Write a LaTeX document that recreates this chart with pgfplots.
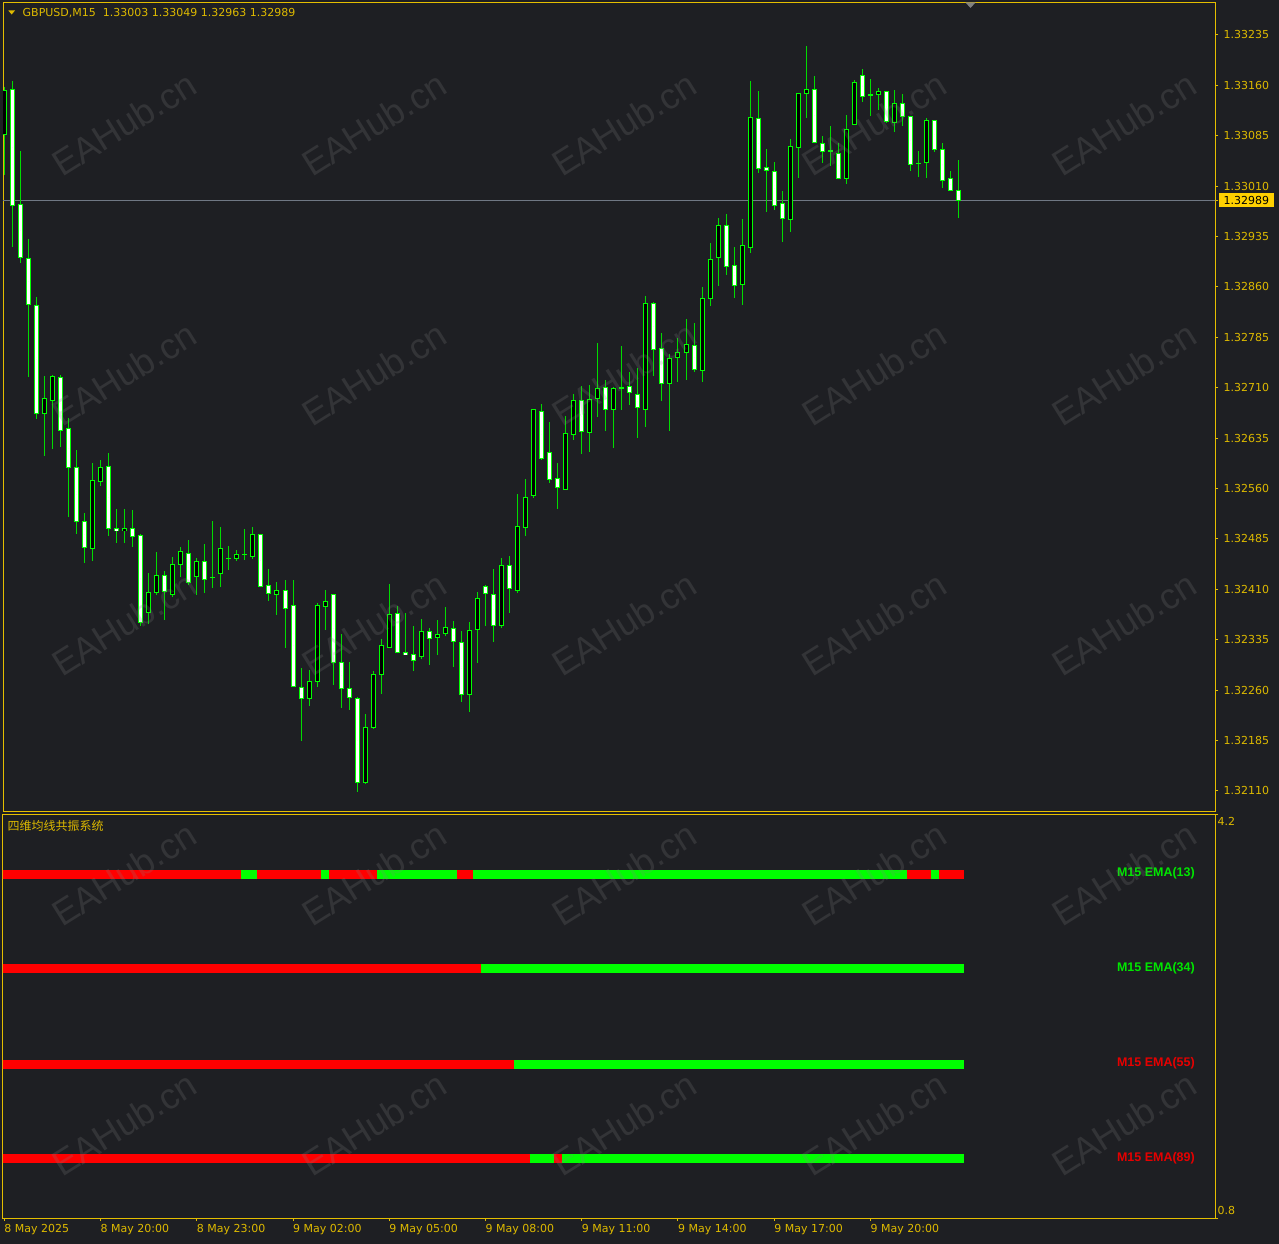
\documentclass[border=0pt]{standalone}
\usepackage{pgfplots}
\pgfplotsset{compat=1.18}
\usepackage{pgfplotstable}
\usepackage{fontspec}
\setmainfont{DejaVu Sans}
\newfontfamily\arialfont{Liberation Sans}
\newfontfamily\cjk{Noto Sans CJK SC}

\definecolor{bg}{RGB}{30,31,35}
\definecolor{frame}{RGB}{228,190,0}
\definecolor{goldtext}{RGB}{222,186,0}
\definecolor{pricetag}{RGB}{255,208,0}
\definecolor{candlegreen}{RGB}{0,255,0}
\definecolor{wickgreen}{RGB}{0,220,0}
\definecolor{pricegray}{RGB}{112,120,132}
\definecolor{sigred}{RGB}{255,0,0}
\definecolor{siggreen}{RGB}{0,255,0}
\definecolor{labred}{RGB}{230,0,0}
\definecolor{labgreen}{RGB}{0,230,0}

% GBPUSD M15 bars; prices in points above 1.32000 (1 point = 0.00001)
\pgfplotstableread{
i o h l c
0 1087 1158 1027 1153
1 1154 1166 920 982
2 983 1062 895 904
3 902 931 726 834
4 833 845 664 671
5 671 727 609 694
6 691 729 619 727
7 726 729 622 646
8 649 665 517 591
9 591 617 493 511
10 511 524 450 473
11 471 598 452 572
12 571 603 564 592
13 593 613 489 500
14 501 530 479 497
15 497 529 479 501
16 501 528 473 489
17 490 492 356 361
18 375 435 358 405
19 405 466 402 431
20 431 438 364 407
21 402 458 399 447
22 447 473 429 467
23 464 483 417 420
24 429 457 401 452
25 452 478 405 425
26 428 512 412 428
27 433 503 413 471
28 456 474 439 456
29 456 469 452 462
30 462 500 453 462
31 459 503 455 492
32 491 493 413 414
33 416 441 392 404
34 403 421 372 409
35 409 424 323 382
36 386 424 265 266
37 264 293 184 247
38 247 290 236 273
39 273 389 265 386
40 384 409 350 392
41 403 403 267 301
42 301 343 233 262
43 263 302 231 249
44 248 250 109 122
45 123 224 120 205
46 204 289 202 284
47 283 336 255 327
48 323 418 323 373
49 374 385 315 316
50 316 375 313 313
51 313 356 289 304
52 310 366 306 348
53 348 353 298 337
54 339 365 312 343
55 344 384 341 354
56 352 363 295 332
57 331 348 242 254
58 254 362 227 349
59 351 406 301 396
60 415 417 356 404
61 403 440 331 356
62 356 457 353 445
63 445 459 375 412
64 409 552 405 504
65 502 574 490 547
66 550 678 546 677
67 675 686 603 605
68 613 659 569 573
69 575 598 529 561
70 559 668 558 642
71 641 701 632 691
72 691 713 612 645
73 643 714 614 693
74 694 776 666 709
75 711 722 645 677
76 677 711 620 709
77 710 772 677 710
78 712 734 685 703
79 700 739 635 680
80 677 847 651 836
81 836 838 728 767
82 769 791 690 716
83 716 761 646 754
84 755 784 718 763
85 763 813 722 775
86 773 806 733 737
87 736 860 719 843
88 843 926 832 901
89 904 963 862 952
90 952 969 878 891
91 892 920 843 862
92 863 961 833 921
93 919 1167 910 1112
94 1111 1152 1030 1036
95 1038 1066 971 1034
96 1032 1046 975 981
97 984 1003 927 962
98 961 1080 942 1069
99 1068 1149 1022 1148
100 1148 1219 1112 1154
101 1154 1174 1074 1075
102 1074 1084 1044 1062
103 1063 1099 1040 1063
104 1059 1075 1021 1022
105 1022 1116 1013 1095
106 1102 1168 1101 1165
107 1174 1184 1135 1143
108 1146 1169 1114 1146
109 1146 1156 1123 1151
110 1151 1151 1104 1106
111 1105 1153 1091 1133
112 1133 1147 1099 1113
113 1113 1113 1033 1042
114 1044 1063 1023 1044
115 1045 1111 1022 1108
116 1108 1108 1061 1065
117 1065 1075 1007 1019
118 1021 1033 1004 1004
119 1003 1049 963 989
}\candles

\pgfplotsset{
  mtframe/.style={
    scale only axis, width=1212.3pt,
    xmin=-0.162, xmax=150.998,
    axis line style={frame, line width=1pt},
    tick style={frame, line width=1pt},
    tick align=outside, major tick length=3pt,
    ticklabel style={font=\fontsize{11}{13}\selectfont, text=goldtext},
  },
  % error bars only: the point markers themselves are suppressed
  candlebars/.style={forget plot, only marks, mark=*, mark size=0pt,
    mark options={draw=none, fill=none}},
}

\begin{document}
\begin{tikzpicture}
\useasboundingbox (0pt,0pt) rectangle (1279pt,-1244pt);
\fill[bg] (0pt,0pt) rectangle (1279pt,-1244pt);

% ---------------- price window ----------------
\begin{axis}[mtframe,
  at={(3pt,-811pt)}, anchor=south west, height=808pt,
  ymin=80.2, ymax=1282.6,
  xtick=\empty,
  ytick={110,185,...,1235},
  yticklabels={1.32110,1.32185,1.32260,1.32335,1.32410,1.32485,1.32560,1.32635,
               1.32710,1.32785,1.32860,1.32935,1.33010,1.33085,1.33160,1.33235},
  ytick pos=right,
  yticklabel style={anchor=west, inner xsep=5pt, inner ysep=3pt},
  extra y ticks={989}, extra y tick labels={1.32989},
  extra y tick style={yticklabel style={fill=pricetag, text=black}},
]
% last bid line
\addplot[pricegray, line width=1pt, forget plot] coordinates {(-1,989) (152,989)};
% wicks
\addplot[candlebars, error bars/.cd, y dir=both, y explicit, error mark=none,
  error bar style={draw=wickgreen, line width=1pt}]
  table[x=i, y expr={(\thisrow{h}+\thisrow{l})/2}, y error expr={(\thisrow{h}-\thisrow{l})/2}] {\candles};
% body outlines
\addplot[candlebars, error bars/.cd, y dir=both, y explicit, error mark=none,
  error bar style={draw=candlegreen, line width=5pt}]
  table[x=i, y expr={(\thisrow{o}+\thisrow{c})/2}, y error expr={abs(\thisrow{o}-\thisrow{c})/2+0.744}] {\candles};
% bearish bodies (white); bars of other kinds are moved off the chart
\addplot[candlebars, error bars/.cd, y dir=both, y explicit, error mark=none,
  error bar style={draw=white, line width=3pt}]
  table[x expr={(\thisrow{o}-\thisrow{c}>1.6) ? \thisrow{i} : -20},
        y expr={(\thisrow{o}+\thisrow{c})/2},
        y error expr={max(abs(\thisrow{o}-\thisrow{c})/2-0.744,0.05)}] {\candles};
% bullish bodies (black)
\addplot[candlebars, error bars/.cd, y dir=both, y explicit, error mark=none,
  error bar style={draw=black, line width=3pt}]
  table[x expr={(\thisrow{c}-\thisrow{o}>1.6) ? \thisrow{i} : -20},
        y expr={(\thisrow{o}+\thisrow{c})/2},
        y error expr={max(abs(\thisrow{c}-\thisrow{o})/2-0.744,0.05)}] {\candles};
\end{axis}

% ---------------- indicator window ----------------
\begin{axis}[mtframe,
  at={(3pt,-1218pt)}, anchor=south west, height=404pt,
  ymin=0.8, ymax=4.2,
  xtick={0,12,...,108},
  xticklabels={8 May 2025,8 May 20:00,8 May 23:00,9 May 02:00,9 May 05:00,
               9 May 08:00,9 May 11:00,9 May 14:00,9 May 17:00,9 May 20:00},
  xtick pos=bottom,
  xticklabel style={anchor=north west, inner xsep=0pt, inner ysep=3pt},
  ytick={4.2}, yticklabels={4.2}, ytick pos=right,
  yticklabel style={anchor=north west, inner xsep=1pt, inner ysep=3pt, xshift=-2pt},
  extra y ticks={0.8}, extra y tick labels={0.8},
  extra y tick style={yticklabel style={anchor=south west}},
]
% EMA(13)
\addplot[sigred,   line width=9pt] coordinates {(-0.5,3.691) (29.5,3.691)};
\addplot[siggreen, line width=9pt] coordinates {(29.5,3.691) (31.5,3.691)};
\addplot[sigred,   line width=9pt] coordinates {(31.5,3.691) (39.5,3.691)};
\addplot[siggreen, line width=9pt] coordinates {(39.5,3.691) (40.5,3.691)};
\addplot[sigred,   line width=9pt] coordinates {(40.5,3.691) (46.5,3.691)};
\addplot[siggreen, line width=9pt] coordinates {(46.5,3.691) (56.5,3.691)};
\addplot[sigred,   line width=9pt] coordinates {(56.5,3.691) (58.5,3.691)};
\addplot[siggreen, line width=9pt] coordinates {(58.5,3.691) (112.5,3.691)};
\addplot[sigred,   line width=9pt] coordinates {(112.5,3.691) (115.5,3.691)};
\addplot[siggreen, line width=9pt] coordinates {(115.5,3.691) (116.5,3.691)};
\addplot[sigred,   line width=9pt] coordinates {(116.5,3.691) (119.7,3.691)};
% EMA(34)
\addplot[sigred,   line width=9pt] coordinates {(-0.5,2.896) (59.5,2.896)};
\addplot[siggreen, line width=9pt] coordinates {(59.5,2.896) (119.7,2.896)};
% EMA(55)
\addplot[sigred,   line width=9pt] coordinates {(-0.5,2.096) (63.5,2.096)};
\addplot[siggreen, line width=9pt] coordinates {(63.5,2.096) (119.7,2.096)};
% EMA(89)
\addplot[sigred,   line width=9pt] coordinates {(-0.5,1.297) (65.5,1.297)};
\addplot[siggreen, line width=9pt] coordinates {(65.5,1.297) (68.5,1.297)};
\addplot[sigred,   line width=9pt] coordinates {(68.5,1.297) (69.5,1.297)};
\addplot[siggreen, line width=9pt] coordinates {(69.5,1.297) (119.7,1.297)};
\end{axis}

% window captions
\fill[goldtext] (8.3pt,-10.5pt) -- (15pt,-10.5pt) -- (11.65pt,-14.5pt) -- cycle;
\node[anchor=west, inner sep=0pt, text=goldtext, font=\fontsize{11}{13}\selectfont]
  at (22.5pt,-12.7pt) {GBPUSD,M15\ \ 1.33003 1.33049 1.32963 1.32989};
\fill[gray] (965.5pt,-2.5pt) -- (975.5pt,-2.5pt) -- (970.5pt,-8pt) -- cycle;
\node[anchor=west, inner sep=0pt, text=goldtext, font=\cjk\fontsize{12}{14}\selectfont]
  at (7.5pt,-825.5pt) {四维均线共振系统};

% line labels
\begin{scope}[every node/.style={anchor=east, inner sep=0pt,
    font=\arialfont\bfseries\fontsize{12.5}{14}\selectfont}]
\node[text=labgreen] at (1195pt,-873.3pt) {M15 EMA(13)};
\node[text=labgreen] at (1195pt,-968.3pt) {M15 EMA(34)};
\node[text=labred]   at (1195pt,-1063.5pt) {M15 EMA(55)};
\node[text=labred]   at (1195pt,-1158.7pt) {M15 EMA(89)};
\end{scope}

% watermark
\foreach \wx in {124,374,624,874,1124}{
  \foreach \wy in {124,374,624,874,1124}{
    \node[rotate=32, text=gray, opacity=0.22, inner sep=0pt,
          font=\arialfont\fontsize{36}{40}\selectfont]
      at (\wx pt,-\wy pt) {EAHub.cn};
  }
}
\end{tikzpicture}
\end{document}
